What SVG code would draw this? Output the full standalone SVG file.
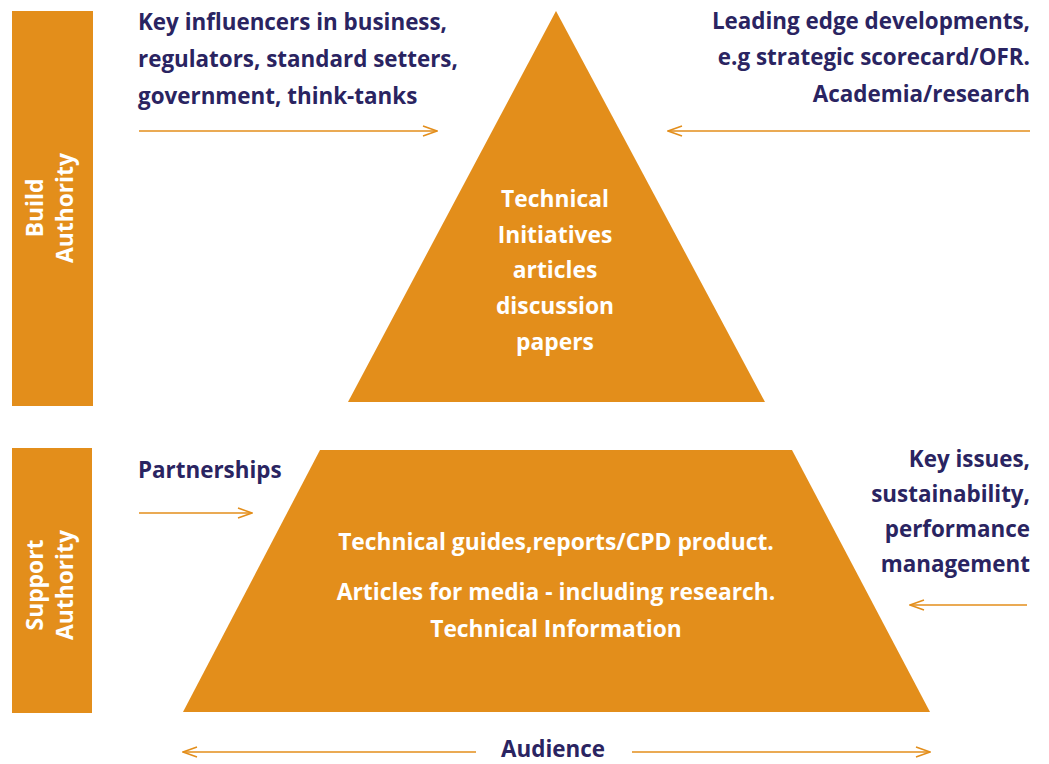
<svg xmlns="http://www.w3.org/2000/svg" width="1049" height="764" viewBox="0 0 1049 764">
<defs>
<style>
.bg{fill:#ffffff}
.o{fill:#E38E1B}
.t{font-family:"Open Sans","Noto Sans","Liberation Sans",sans-serif;font-weight:700;font-size:22.4px;fill:#2A2461}
.w{font-family:"Open Sans","Noto Sans","Liberation Sans",sans-serif;font-weight:700;font-size:22.8px;fill:#ffffff}
.c{text-anchor:middle}
.r{text-anchor:end}
.ln{stroke:#E38E1B;stroke-width:1.5;fill:none}
</style>
<marker id="ah" viewBox="0 0 16 12" refX="15" refY="6" markerWidth="16" markerHeight="12" markerUnits="userSpaceOnUse" orient="auto-start-reverse">
<path d="M1,1 L15,6 L1,11" fill="none" stroke="#E38E1B" stroke-width="1.5"/>
</marker>
</defs>
<rect class="bg" width="1049" height="764"/>
<g id="build-authority">
<rect class="o" x="12" y="11" width="81" height="395"/>
<text class="w c" transform="translate(43,208) rotate(-90)">Build</text>
<text class="w c" transform="translate(73,208) rotate(-90)">Authority</text>
</g>
<g id="support-authority">
<rect class="o" x="12" y="448" width="80" height="265"/>
<text class="w c" transform="translate(43,585) rotate(-90)">Support</text>
<text class="w c" transform="translate(73,585) rotate(-90)">Authority</text>
</g>
<g id="top-triangle">
<polygon class="o" points="556,11 765,402 348,402"/>
<text class="w c" x="555" y="207">Technical</text>
<text class="w c" x="555" y="243">Initiatives</text>
<text class="w c" x="555" y="278">articles</text>
<text class="w c" x="555" y="314">discussion</text>
<text class="w c" x="555" y="350">papers</text>
</g>
<g id="bottom-trapezoid">
<polygon class="o" points="320,450 792,450 930,712 183,712"/>
<text class="w c" x="556" y="550">Technical guides,reports/CPD product.</text>
<text class="w c" x="556" y="600">Articles for media - including research.</text>
<text class="w c" x="556" y="637">Technical Information</text>
</g>
<g id="key-influencers">
<text class="t" x="138" y="30">Key influencers in business,</text>
<text class="t" x="138" y="67">regulators, standard setters,</text>
<text class="t" x="138" y="104">government, think-tanks</text>
</g>
<g id="leading-edge">
<text class="t r" x="1030" y="29">Leading edge developments,</text>
<text class="t r" x="1030" y="65">e.g strategic scorecard/OFR.</text>
<text class="t r" x="1030" y="102">Academia/research</text>
</g>
<g id="partnerships">
<text class="t" x="138" y="478">Partnerships</text>
</g>
<g id="key-issues">
<text class="t r" x="1030" y="467">Key issues,</text>
<text class="t r" x="1030" y="502">sustainability,</text>
<text class="t r" x="1030" y="537">performance</text>
<text class="t r" x="1030" y="572">management</text>
</g>
<g id="audience">
<text class="t c" x="553" y="757">Audience</text>
</g>
<g id="connectors">
<line class="ln" x1="139" y1="131" x2="437" y2="131" marker-end="url(#ah)"/>
<line class="ln" x1="1030" y1="131" x2="668" y2="131" marker-end="url(#ah)"/>
<line class="ln" x1="139" y1="513" x2="252" y2="513" marker-end="url(#ah)"/>
<line class="ln" x1="1027" y1="605" x2="910" y2="605" marker-end="url(#ah)"/>
<line class="ln" x1="476" y1="752" x2="183" y2="752" marker-end="url(#ah)"/>
<line class="ln" x1="632" y1="752" x2="930" y2="752" marker-end="url(#ah)"/>
</g>
</svg>
